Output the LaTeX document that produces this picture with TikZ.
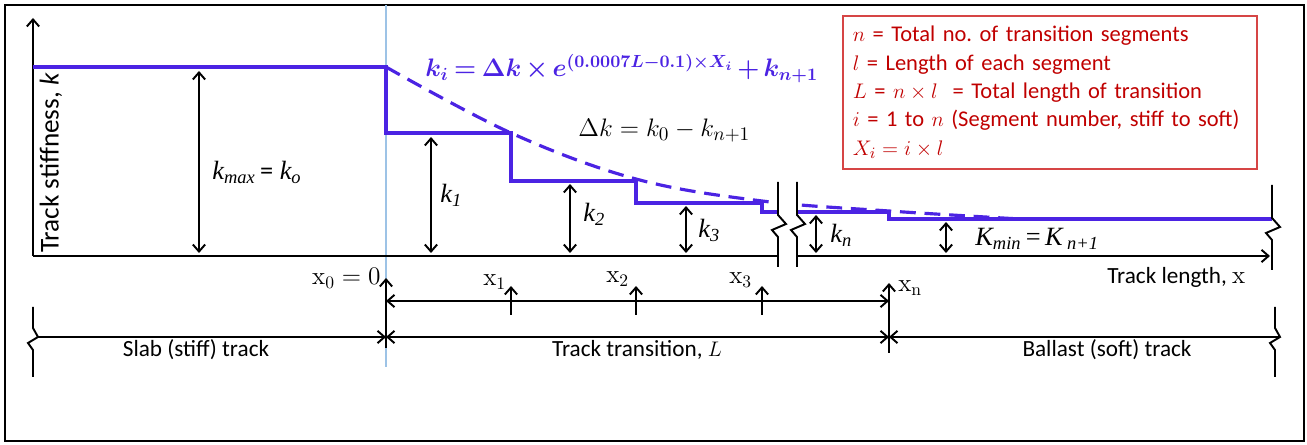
\documentclass[tikz,border=0pt]{standalone}
\usepackage{amsmath,amssymb,bm}
\usepackage[no-math]{fontspec}
\setmainfont{Carlito}
\newfontfamily\timesfont{Liberation Serif}
\usetikzlibrary{arrows.meta}
\definecolor{ink}{HTML}{000000}
\definecolor{stiff}{HTML}{4B23E3}
\definecolor{guide}{HTML}{9DC3E6}
\definecolor{note}{HTML}{C00000}
\definecolor{noteframe}{HTML}{D64545}
\frenchspacing

\begin{document}
\begin{tikzpicture}[
  x=0.02cm, y=-0.02cm,
  font=\fontsize{13.2}{16.1}\selectfont,
  ln/.style     = {draw=ink, line width=1.1pt},
  arr/.style    = {ln, -{Straight Barb[length=4pt,width=7pt]}},
  dim/.style    = {ln, {Straight Barb[length=4pt,width=7pt]}-{Straight Barb[length=4pt,width=7pt]}},
  stair/.style  = {draw=stiff, line width=1.8pt},
  fitline/.style = {stair, dash pattern=on 9pt off 5pt},
  lab/.style    = {anchor=base west, inner sep=0pt, font=\fontsize{15}{18}\selectfont\timesfont\itshape},
  tick/.style   = {anchor=base west, inner sep=0pt, font=\fontsize{14.5}{16}\selectfont},
  region/.style = {anchor=base, inner sep=0pt},
  legend/.style = {draw=noteframe, line width=0.9pt, text=note, align=left, anchor=north west,
                   font=\fontsize{12.8}{16.1}\selectfont,
                   inner xsep=0.2cm, inner ysep=0pt, text width=7.88cm, minimum height=3.06cm},
  brk/.pic      = {\draw[ln] (0,-42) -- (0,-9) -- (8,0) -- (-6,6) -- (0,13) -- (0,43);},
  brklow/.pic   = {\draw[ln] (0,-33) -- (0,-12) -- (5,-3) -- (-5,3) -- (0,10) -- (0,37);},
]
\useasboundingbox (0,0) rectangle (1307,445);

% ---------- frame ----------
\draw[line width=1.6pt] (5,5) rectangle (1304,441);

% ---------- guide at x0 ----------
\coordinate (gtop) at (386,5);
\coordinate (gbot) at (386,367);
\draw[draw=guide, line width=0.6pt] (gtop) -- (gbot);

% ---------- axes ----------
\coordinate (O) at (33,256);
\coordinate (ytip) at (33,18);
\coordinate (brkL) at (778,256);
\coordinate (brkR) at (797,256);
\coordinate (xtip) at (1270,256);
\draw[arr] (O) -- (ytip);
\draw[ln] (O) -- (brkL);
\draw[arr] (brkR) -- (xtip);

% ---------- stiffness profile ----------
\foreach \a/\b in {0/778,797/1307}{
  \begin{scope}
    \clip (\a,0) rectangle (\b,445);
    \draw[stair] (33,67) -| (386,133) -| (511,181) -| (636,203) -| (762,212) -| (889,219) -- (1272,219);
    \draw[fitline] plot[smooth, tension=0.6] coordinates
      {(386,67) (511,133) (636,179) (762,201) (889,211) (1020,219)};
  \end{scope}
}

% ---------- break marks ----------
\pic at (778,224) {brk};
\pic at (797,224) {brk};
\pic at (1272,227) {brk};
\pic at (33,340) {brklow};
\pic at (1275,340) {brklow};

% ---------- stiffness levels ----------
\foreach \n/\xx/\yy in {max/199/71, 1/431/137, 2/570/184, 3/686/206, n/816/215, min/946/222}{
  \coordinate (top\n) at (\xx,\yy);
  \coordinate (bot\n) at (\xx,253);
  \draw[dim] (top\n) -- (bot\n);
}
\node[lab] (lkmax) at (212,180) {k\textsubscript{max}{\rmfamily\upshape\,=} k\textsubscript{o}};
\node[lab] (lk1) at (440,203) {k\textsubscript{1}};
\node[lab] (lk2) at (583,222) {k\textsubscript{2}};
\node[lab] (lk3) at (698,238) {k\textsubscript{3}};
\node[lab] (lkn) at (830,243) {k\textsubscript{n}};
\node[lab] (lkmin) at (975,246) {K\textsubscript{min}\,{\upshape =}\,K\,\textsubscript{n+1}};

% ---------- formulas ----------
\node[anchor=base west, inner sep=0pt, text=stiff, font=\fontsize{14}{16}\selectfont] (law) at (425,77)
  {\medmuskip=3mu\thickmuskip=4mu$\bm{k_i = \Delta k \times e^{(0.0007L-0.1)\times X_i} + k_{n+1}}$};
\node[anchor=base west, inner sep=0pt, font=\fontsize{15}{18}\selectfont] (dk) at (578,137)
  {$\Delta k = k_0 - k_{n+1}$};

% ---------- axis titles ----------
\node[rotate=90, font=\fontsize{15.5}{18}\selectfont] (ylab) at (51,163) {Track stiffness, \textit{k}};
\node[anchor=base west, inner sep=0pt] (xlab) at (1107,284) {Track length, {\fontsize{14.5}{16}\selectfont$\mathrm{x}$}};

% ---------- segment positions ----------
\coordinate (x0bot) at (386,348);
\coordinate (x0top) at (386,278);
\draw[arr] (x0bot) -- (x0top);
\coordinate (xnbot) at (889,353);
\coordinate (xntop) at (889,283);
\draw[arr] (xnbot) -- (xntop);
\coordinate (Lstart) at (386,301);
\coordinate (Lend) at (889,301);
\draw[dim] (Lstart) -- (Lend);
\foreach \i/\xx in {1/511,2/636,3/762}{
  \coordinate (xb\i) at (\xx,315);
  \coordinate (xt\i) at (\xx,286);
  \draw[arr] (xb\i) -- (xt\i);
}
\node[tick, anchor=base east] (lx0) at (381,285) {$\mathrm{x}_0 = 0$};
\node[tick] (lx1) at (483,286) {$\mathrm{x}_1$};
\node[tick] (lx2) at (606,283) {$\mathrm{x}_2$};
\node[tick] (lx3) at (729,284) {$\mathrm{x}_3$};
\node[tick] (lxn) at (898,292) {$\mathrm{x}_\mathrm{n}$};

% ---------- track zones ----------
\coordinate (slabS) at (38,337);
\coordinate (slabE) at (386,337);
\coordinate (transE) at (889,337);
\coordinate (ballE) at (1280,337);
\draw[arr] (slabS) -- (slabE);
\draw[dim] (slabE) -- (transE);
\draw[arr] (ballE) -- (transE);
\node[region] (slab) at (196,357) {Slab (stiff) track};
\node[region] (trans) at (637,357) {Track transition, $L$};
\node[region] (ball) at (1107,357) {Ballast (soft) track};

% ---------- legend ----------
\node[legend] (key) at (842,15)
  {$n$ = Total no. of transition segments\\
   $l$ = Length of each segment\\
   $L$ = $n\times l$\ \ = Total length of transition\\
   $i$ = 1 to $n$ (Segment number, stiff to soft)\\
   $X_i = i\times l$};

\end{tikzpicture}
\end{document}
